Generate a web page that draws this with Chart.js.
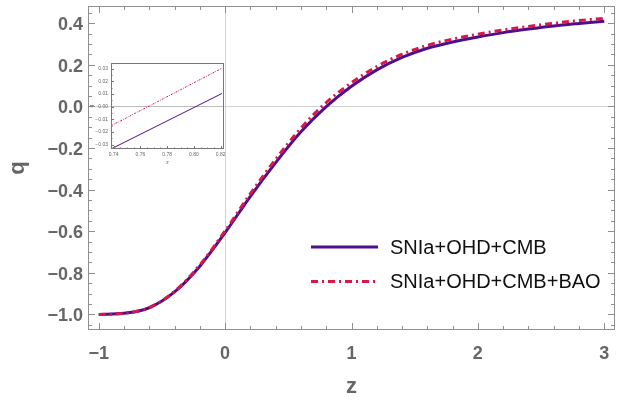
<!DOCTYPE html>
<html>
<head>
<meta charset="utf-8">
<script src="https://cdn.jsdelivr.net/npm/chart.js@4.4.1/dist/chart.umd.min.js"></script>
<style>
  html, body { margin: 0; padding: 0; background: #fff; }
  #wrap { position: relative; width: 628px; height: 401px; }
  #mainChart { position: absolute; left: 0; top: 0; }
  #insetChart { position: absolute; left: 86px; top: 56px; }
</style>
</head>
<body>
<div id="wrap">
  <canvas id="mainChart" width="628" height="401"></canvas>
  <canvas id="insetChart" width="142" height="114"></canvas>
</div>
<script>
// values
const zValues = [-1.0, -0.8, -0.6, -0.4, -0.2, 0.0, 0.2, 0.4, 0.6, 0.8, 1.0, 1.2, 1.4, 1.6, 1.8, 2.0, 2.2, 2.4, 2.6, 2.8, 3.0]
const qSolid  = [-1.000, -0.995, -0.968, -0.892, -0.768, -0.607, -0.432, -0.270, -0.122, -0.001, 0.097, 0.176, 0.236, 0.280, 0.310, 0.334, 0.355, 0.372, 0.387, 0.399, 0.410]
const qBao    = [-1.000, -0.995, -0.967, -0.889, -0.762, -0.598, -0.419, -0.254, -0.104, 0.019, 0.114, 0.192, 0.251, 0.294, 0.324, 0.347, 0.368, 0.385, 0.400, 0.413, 0.424]
const seriesLabels = ['SNIa+OHD+CMB', 'SNIa+OHD+CMB+BAO']

// inset (zoom around the transition redshift)
const insetZ     = [0.738, 0.821]
const insetSolid = [-0.0335, 0.0104]
const insetBao   = [-0.0152, 0.0304]

const purple = '#4e0f8c'
const crimson = '#d8174a'
const tickGray = '#666666'
const frameGray = '#8f8f8f'
const fontFamily = '"Liberation Sans", Arial, sans-serif'

const toPoints = (xs, ys) => xs.map((x, i) => ({x: x, y: ys[i]}))
const minusFmt = (v, d) => (v < -1e-9 ? '\u2212' : '') + Math.abs(v).toFixed(d)
const noPad = s => { s.paddingTop = 0; s.paddingBottom = 0; s.paddingLeft = 0; s.paddingRight = 0 }

// frame with inward major/minor ticks on all four sides
const frameTicks = {
    id: 'frameTicks',
    afterDraw(chart, args, o) {
        const {ctx, chartArea: a, scales: {x, y}} = chart
        ctx.save()
        ctx.strokeStyle = o.color
        ctx.lineWidth = 1
        ctx.strokeRect(a.left + 0.5, a.top + 0.5, a.right - a.left - 1, a.bottom - a.top - 1)
        ctx.beginPath()
        let start = Math.ceil(x.min / o.xMinor - 1e-6) * o.xMinor
        for (let v = start; v <= x.max + 1e-9; v += o.xMinor) {
            let major = Math.abs(v / o.xMajor - Math.round(v / o.xMajor)) < 1e-6
            let len = major ? o.majorLen : o.minorLen
            let px = Math.round(x.getPixelForValue(v)) + 0.5
            ctx.moveTo(px, a.bottom); ctx.lineTo(px, a.bottom - len)
            if (o.allSides) { ctx.moveTo(px, a.top); ctx.lineTo(px, a.top + len) }
        }
        start = Math.ceil(y.min / o.yMinor - 1e-6) * o.yMinor
        for (let v = start; v <= y.max + 1e-9; v += o.yMinor) {
            let major = Math.abs(v / o.yMajor - Math.round(v / o.yMajor)) < 1e-6
            let len = major ? o.majorLen : o.minorLen
            let py = Math.round(y.getPixelForValue(v)) + 0.5
            ctx.moveTo(a.left, py); ctx.lineTo(a.left + len, py)
            if (o.allSides) { ctx.moveTo(a.right, py); ctx.lineTo(a.right - len, py) }
        }
        ctx.stroke()
        ctx.restore()
    }
}

// legend drawn inside the plot area
const lineLegend = {
    id: 'lineLegend',
    afterDraw(chart, args, o) {
        if (!o.show) return
        const ctx = chart.ctx
        ctx.save()
        chart.data.datasets.forEach((ds, i) => {
            let yy = o.y + i * o.rowGap
            ctx.strokeStyle = ds.borderColor
            ctx.lineWidth = ds.borderWidth
            ctx.setLineDash(ds.borderDash || [])
            ctx.beginPath()
            ctx.moveTo(o.x, yy)
            ctx.lineTo(o.x + o.lineLen, yy)
            ctx.stroke()
            ctx.setLineDash([])
            ctx.fillStyle = '#111'
            ctx.font = o.font
            ctx.textBaseline = 'middle'
            ctx.fillText(ds.label, o.x + o.lineLen + o.gap, yy + 1)
        })
        ctx.restore()
    }
}

// draws the little axis letters of the inset
const insetLabels = {
    id: 'insetLabels',
    afterDraw(chart, args, o) {
        if (!o.show) return
        const {ctx, chartArea: a} = chart
        ctx.save()
        ctx.fillStyle = tickGray
        ctx.font = '5px ' + fontFamily
        ctx.textAlign = 'center'
        ctx.textBaseline = 'middle'
        ctx.fillText('z', (a.left + a.right) / 2, a.bottom + 14)
        ctx.translate(6, (a.top + a.bottom) / 2)
        ctx.rotate(-Math.PI / 2)
        ctx.fillText('q', 0, 0)
        ctx.restore()
    }
}

const zeroGrid = (color) => (c) => (c.tick && Math.abs(c.tick.value) < 1e-9) ? color : 'rgba(0,0,0,0)'

new Chart(document.getElementById('mainChart'), {
    type: 'line',
    data: {
        datasets: [
            {
                label: seriesLabels[0],
                data: toPoints(zValues, qSolid),
                borderColor: purple,
                borderWidth: 3,
                pointRadius: 0,
                cubicInterpolationMode: 'monotone',
                order: 1
            },
            {
                label: seriesLabels[1],
                data: toPoints(zValues, qBao),
                borderColor: crimson,
                borderWidth: 3,
                borderDash: [7, 4, 2, 4],
                pointRadius: 0,
                cubicInterpolationMode: 'monotone',
                order: 0
            }
        ]
    },
    options: {
        responsive: false,
        animation: false,
        layout: {padding: {top: 6, right: 13, left: 0, bottom: 0}},
        plugins: {
            legend: {display: false},
            tooltip: {enabled: false},
            frameTicks: {color: frameGray, xMinor: 0.2, xMajor: 1, yMinor: 0.05, yMajor: 0.2, majorLen: 7, minorLen: 4, allSides: true},
            lineLegend: {show: true, x: 311, y: 247, rowGap: 34.5, lineLen: 67, gap: 12, font: '20px ' + fontFamily},
            insetLabels: {show: false}
        },
        scales: {
            x: {
                type: 'linear',
                min: -1.085,
                max: 3.085,
                afterFit: s => { s.height = 71; noPad(s) },
                border: {display: false},
                grid: {drawTicks: false, color: zeroGrid('#d2d2d2')},
                ticks: {
                    stepSize: 1,
                    includeBounds: false,
                    padding: 13,
                    color: tickGray,
                    font: {family: fontFamily, size: 18, weight: 'bold'},
                    callback: v => minusFmt(v, 0)
                },
                title: {display: true, text: 'z', color: tickGray, padding: {top: 0, bottom: 1}, font: {family: fontFamily, size: 22, weight: 'bold'}}
            },
            y: {
                min: -1.075,
                max: 0.483,
                afterFit: s => { s.width = 88; noPad(s) },
                border: {display: false},
                grid: {drawTicks: false, color: zeroGrid('#d2d2d2')},
                ticks: {
                    stepSize: 0.2,
                    includeBounds: false,
                    padding: 5,
                    labelOffset: 2,
                    color: tickGray,
                    font: {family: fontFamily, size: 18, weight: 'bold'},
                    callback: v => minusFmt(v, 1)
                },
                title: {display: true, text: 'q', color: tickGray, padding: {top: 5, bottom: 0}, font: {family: fontFamily, size: 22, weight: 'bold'}}
            }
        }
    },
    plugins: [frameTicks, lineLegend, insetLabels]
})

new Chart(document.getElementById('insetChart'), {
    type: 'line',
    data: {
        datasets: [
            {
                label: seriesLabels[0],
                data: toPoints(insetZ, insetSolid),
                borderColor: purple,
                borderWidth: 1,
                pointRadius: 0
            },
            {
                label: seriesLabels[1],
                data: toPoints(insetZ, insetBao),
                borderColor: crimson,
                borderWidth: 1,
                borderDash: [2, 1.2, 0.8, 1.2],
                pointRadius: 0
            }
        ]
    },
    options: {
        responsive: false,
        animation: false,
        layout: {padding: {top: 7, right: 4, left: 0, bottom: 0}},
        plugins: {
            legend: {display: false},
            tooltip: {enabled: false},
            frameTicks: {color: '#777', xMinor: 0.005, xMajor: 0.02, yMinor: 0.005, yMajor: 0.01, majorLen: 3, minorLen: 1.5, allSides: false},
            lineLegend: {show: false},
            insetLabels: {show: true}
        },
        scales: {
            x: {
                type: 'linear',
                min: 0.738,
                max: 0.8225,
                afterFit: s => { s.height = 21; noPad(s) },
                border: {display: false},
                grid: {display: false, drawTicks: false},
                ticks: {
                    stepSize: 0.02,
                    includeBounds: false,
                    padding: 3,
                    color: tickGray,
                    font: {family: fontFamily, size: 5},
                    callback: v => minusFmt(v, 2)
                }
            },
            y: {
                min: -0.0335,
                max: 0.0345,
                afterFit: s => { s.width = 25; noPad(s) },
                border: {display: false},
                grid: {drawTicks: false, color: zeroGrid('#bdbdbd')},
                ticks: {
                    stepSize: 0.01,
                    includeBounds: false,
                    padding: 3,
                    color: tickGray,
                    font: {family: fontFamily, size: 5},
                    callback: v => minusFmt(v, 2)
                }
            }
        }
    },
    plugins: [frameTicks, insetLabels]
})
</script>
</body>
</html>
